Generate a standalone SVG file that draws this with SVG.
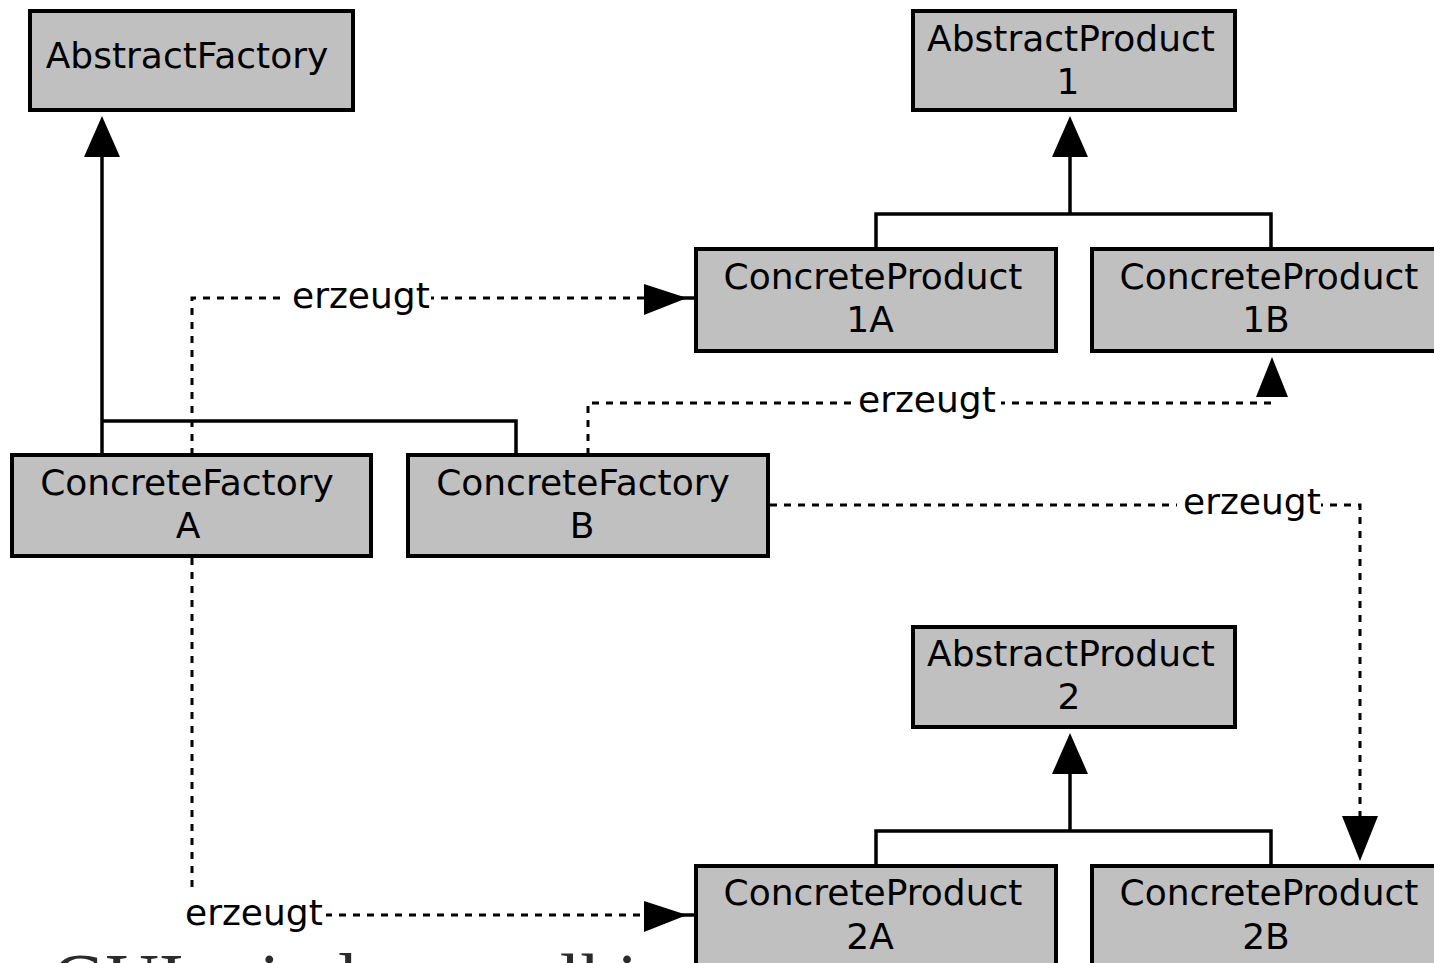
<svg xmlns="http://www.w3.org/2000/svg" width="1434" height="963" viewBox="0 0 1434 963">
<style>
.box{fill:#c0c0c0;stroke:#000;stroke-width:4}
.t{font-family:"DejaVu Sans",sans-serif;font-size:36px;fill:#000;text-anchor:middle}
.l{font-family:"DejaVu Sans",sans-serif;font-size:36px;fill:#000}
.solid{fill:none;stroke:#000;stroke-width:3.5}
.dash{fill:none;stroke:#000;stroke-width:3;stroke-dasharray:7 7}
.ah{fill:#000}
.bg{fill:#fff}
</style>
<rect width="1434" height="963" fill="#fff"/>
<g id="connectors">
  <polyline class="solid" points="102,157 102,455"/>
  <polyline class="solid" points="102,421 516,421 516,455"/>
  <polygon class="ah" points="102,116 84,157 120,157"/>
  <polyline class="solid" points="1070,157 1070,214"/>
  <polyline class="solid" points="876,249 876,214 1271,214 1271,249"/>
  <polygon class="ah" points="1070,116 1052,157 1088,157"/>
  <polyline class="solid" points="1070,774 1070,831"/>
  <polyline class="solid" points="876,866 876,831 1271,831 1271,866"/>
  <polygon class="ah" points="1070,733 1052,774 1088,774"/>
  <polyline class="dash" points="192,455 192,298 644,298"/>
  <line class="solid" x1="680" y1="298" x2="696" y2="298"/>
  <polygon class="ah" points="687,298 644,284 644,315"/>
  <rect class="bg" x="283" y="280" width="148" height="36"/>
  <text class="l" x="292" y="308">erzeugt</text>
  <polyline class="dash" points="192,558 192,915 644,915"/>
  <line class="solid" x1="680" y1="915" x2="696" y2="915"/>
  <polygon class="ah" points="687,915 644,901 644,932"/>
  <rect class="bg" x="180" y="890" width="146" height="40"/>
  <text class="l" x="185" y="925">erzeugt</text>
  <polyline class="dash" points="588,455 588,403 1272,403 1272,397"/>
  <polygon class="ah" points="1272,357 1256,397 1288,397"/>
  <rect class="bg" x="855" y="384" width="146" height="36"/>
  <text class="l" x="858" y="412">erzeugt</text>
  <polyline class="dash" points="770,505 1360,505 1360,816"/>
  <polygon class="ah" points="1360,861 1342,816 1378,816"/>
  <rect class="bg" x="1177" y="486" width="144" height="36"/>
  <text class="l" x="1183" y="514">erzeugt</text>
</g>
<g id="AbstractFactory">
  <rect class="box" x="30" y="11" width="323" height="99"/>
  <text class="t" x="187" y="68">AbstractFactory</text>
</g>
<g id="AbstractProduct1">
  <rect class="box" x="913" y="11" width="322" height="99"/>
  <text class="t" x="1071" y="51">AbstractProduct</text>
  <text class="t" x="1068" y="94">1</text>
</g>
<g id="ConcreteProduct1A">
  <rect class="box" x="696" y="249" width="360" height="102"/>
  <text class="t" x="873" y="289">ConcreteProduct</text>
  <text class="t" x="870" y="332">1A</text>
</g>
<g id="ConcreteProduct1B">
  <rect class="box" x="1092" y="249" width="360" height="102"/>
  <text class="t" x="1269" y="289">ConcreteProduct</text>
  <text class="t" x="1266" y="332">1B</text>
</g>
<g id="ConcreteFactoryA">
  <rect class="box" x="12" y="455" width="359" height="101"/>
  <text class="t" x="187" y="495">ConcreteFactory</text>
  <text class="t" x="188" y="538">A</text>
</g>
<g id="ConcreteFactoryB">
  <rect class="box" x="408" y="455" width="360" height="101"/>
  <text class="t" x="583" y="495">ConcreteFactory</text>
  <text class="t" x="582" y="538">B</text>
</g>
<g id="AbstractProduct2">
  <rect class="box" x="913" y="627" width="322" height="100"/>
  <text class="t" x="1071" y="666">AbstractProduct</text>
  <text class="t" x="1069" y="709">2</text>
</g>
<g id="ConcreteProduct2A">
  <rect class="box" x="696" y="866" width="360" height="120"/>
  <text class="t" x="873" y="905">ConcreteProduct</text>
  <text class="t" x="870" y="949">2A</text>
</g>
<g id="ConcreteProduct2B">
  <rect class="box" x="1092" y="866" width="360" height="120"/>
  <text class="t" x="1269" y="905">ConcreteProduct</text>
  <text class="t" x="1266" y="949">2B</text>
</g>
<text x="52" y="1005" font-family="Liberation Serif, serif" font-size="74" fill="#2b2b2b">GUI mit dem toolkit</text>
</svg>
